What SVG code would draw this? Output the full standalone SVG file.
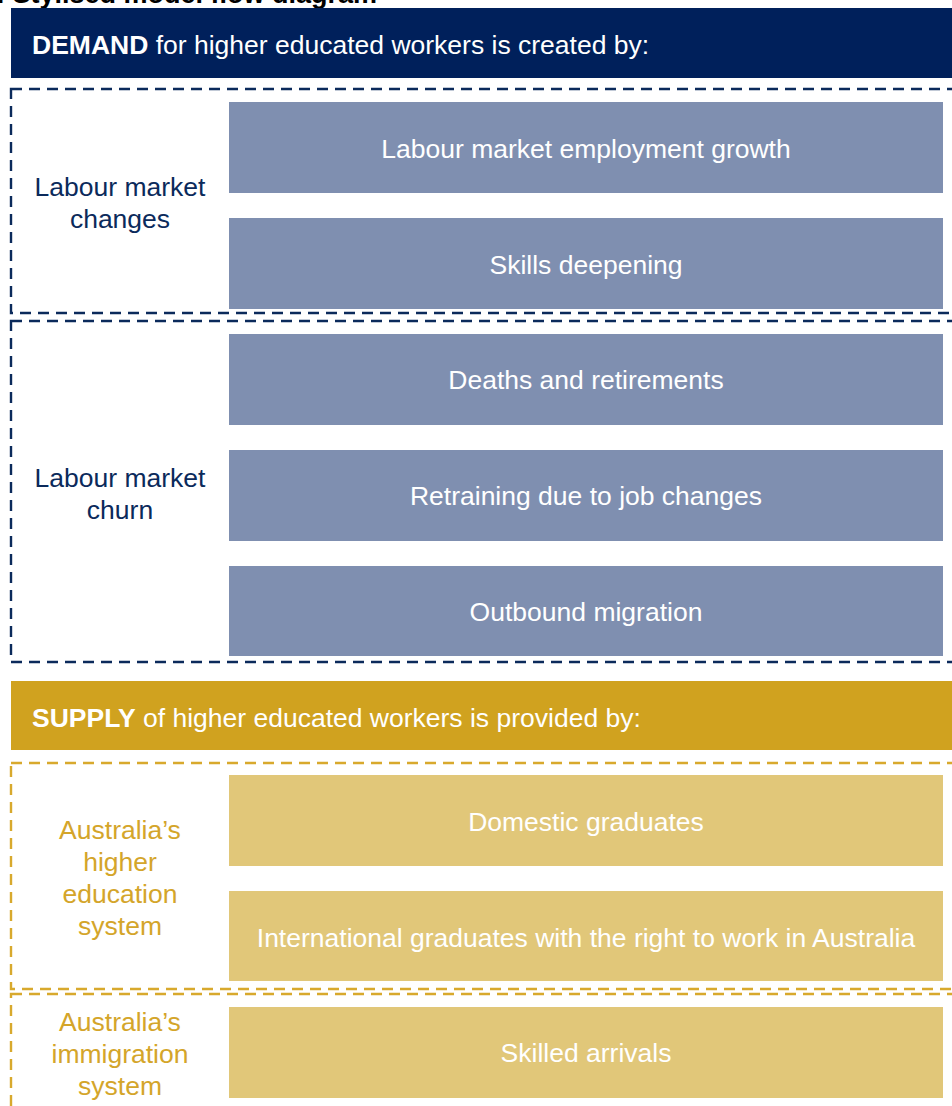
<svg xmlns="http://www.w3.org/2000/svg" width="952" height="1106" viewBox="0 0 952 1106">
  <style>
    text { font-family: "Liberation Sans", Arial, sans-serif; font-size: 26.5px; }
    .title { font-weight: bold; fill: #000; font-size: 27px; }
    .hdr { fill: #fff; }
    .hdr tspan.b { font-weight: bold; }
    .box-d { fill: #7F8FB0; }
    .box-s { fill: #E1C779; }
    .txt { fill: #fff; text-anchor: middle; }
    .lbl-d { fill: #0B2A5B; text-anchor: middle; }
    .lbl-s { fill: #D4A52A; text-anchor: middle; }
    .grp-d { fill: none; stroke: #0B2A5B; stroke-width: 2.4; stroke-dasharray: 11 7; }
    .grp-s { fill: none; stroke: #D8A92D; stroke-width: 2.4; stroke-dasharray: 11 7; }
  </style>

  <!-- figure title, partly above the top edge -->
  <text class="title" x="-4" y="3">: Stylised model flow diagram</text>

  <!-- demand side -->
  <g id="demand-header">
    <rect x="11" y="8" width="945" height="70" fill="#00205B"/>
    <text class="hdr" x="32" y="54"><tspan class="b">DEMAND</tspan> for higher educated workers is created by:</text>
  </g>

  <g id="labour-market-changes">
    <rect class="grp-d" x="11" y="89" width="960" height="224"/>
    <text class="lbl-d" x="120" y="196">Labour market</text>
    <text class="lbl-d" x="120" y="228">changes</text>
  </g>
  <g id="employment-growth">
    <rect class="box-d" x="229" y="102" width="714" height="91"/>
    <text class="txt" x="586" y="158">Labour market employment growth</text>
  </g>
  <g id="skills-deepening">
    <rect class="box-d" x="229" y="218" width="714" height="91"/>
    <text class="txt" x="586" y="274">Skills deepening</text>
  </g>

  <g id="labour-market-churn">
    <rect class="grp-d" x="11" y="321" width="960" height="341"/>
    <text class="lbl-d" x="120" y="487">Labour market</text>
    <text class="lbl-d" x="120" y="519">churn</text>
  </g>
  <g id="deaths-retirements">
    <rect class="box-d" x="229" y="334" width="714" height="91"/>
    <text class="txt" x="586" y="389">Deaths and retirements</text>
  </g>
  <g id="retraining">
    <rect class="box-d" x="229" y="450" width="714" height="91"/>
    <text class="txt" x="586" y="505">Retraining due to job changes</text>
  </g>
  <g id="outbound-migration">
    <rect class="box-d" x="229" y="566" width="714" height="90"/>
    <text class="txt" x="586" y="621">Outbound migration</text>
  </g>

  <!-- supply side -->
  <g id="supply-header">
    <rect x="11" y="681" width="945" height="69" fill="#D0A21F"/>
    <text class="hdr" x="32" y="727"><tspan class="b">SUPPLY</tspan> of higher educated workers is provided by:</text>
  </g>

  <g id="higher-education-system">
    <rect class="grp-s" x="11" y="763" width="960" height="226"/>
    <text class="lbl-s" x="120" y="839">Australia’s</text>
    <text class="lbl-s" x="120" y="871">higher</text>
    <text class="lbl-s" x="120" y="903">education</text>
    <text class="lbl-s" x="120" y="935">system</text>
  </g>
  <g id="domestic-graduates">
    <rect class="box-s" x="229" y="775" width="714" height="91"/>
    <text class="txt" x="586" y="831">Domestic graduates</text>
  </g>
  <g id="international-graduates">
    <rect class="box-s" x="229" y="891" width="714" height="90"/>
    <text class="txt" x="586" y="947">International graduates with the right to work in Australia</text>
  </g>

  <g id="immigration-system">
    <rect class="grp-s" x="11" y="994" width="960" height="140"/>
    <text class="lbl-s" x="120" y="1031">Australia’s</text>
    <text class="lbl-s" x="120" y="1063">immigration</text>
    <text class="lbl-s" x="120" y="1095">system</text>
  </g>
  <g id="skilled-arrivals">
    <rect class="box-s" x="229" y="1007" width="714" height="91"/>
    <text class="txt" x="586" y="1062">Skilled arrivals</text>
  </g>

  <!-- no connectors in this figure -->
  <g id="connectors"/>
</svg>
